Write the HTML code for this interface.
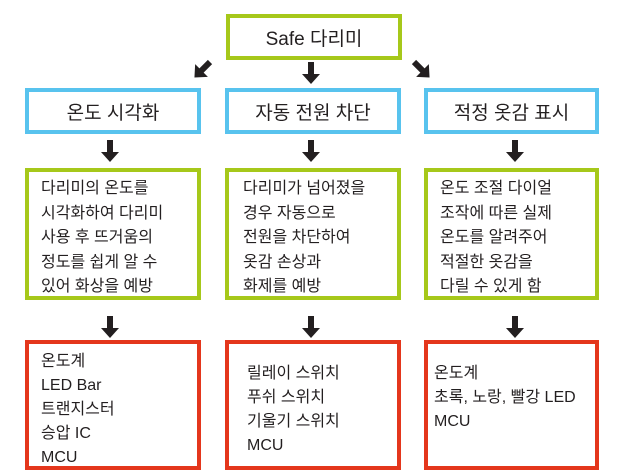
<!DOCTYPE html>
<html><head><meta charset="utf-8"><style>
body{margin:0;width:620px;height:475px;background:#fff;position:relative;font-family:"Liberation Sans","Noto Sans CJK KR",sans-serif;color:#231f20;overflow:hidden}
.b{position:absolute;box-sizing:border-box;border:4px solid}
.g{border-color:#a6c81a}.bl{border-color:#58c3ee}.r{border-color:#e4361c}
.t{display:flex;align-items:center;justify-content:center;font-size:19px}
.tx{font-size:16px;line-height:24.5px;padding-left:12px}
svg{position:absolute;left:0;top:0}
</style></head><body>
<div class="b g t" style="left:226px;top:14px;width:176px;height:46px">Safe 다리미</div>
<div class="b bl t" style="left:25px;top:88px;width:176px;height:46px">온도 시각화</div>
<div class="b bl t" style="left:225px;top:88px;width:176px;height:46px">자동 전원 차단</div>
<div class="b bl t" style="left:424px;top:88px;width:175px;height:46px">적정 옷감 표시</div>
<div class="b g tx" style="left:25px;top:168px;width:176px;height:132px;padding-top:5px">다리미의 온도를<br>시각화하여 다리미<br>사용 후 뜨거움의<br>정도를 쉽게 알 수<br>있어 화상을 예방</div>
<div class="b g tx" style="left:225px;top:168px;width:176px;height:132px;padding-top:5px;padding-left:14px">다리미가 넘어졌을<br>경우 자동으로<br>전원을 차단하여<br>옷감 손상과<br>화제를 예방</div>
<div class="b g tx" style="left:424px;top:168px;width:175px;height:132px;padding-top:5px">온도 조절 다이얼<br>조작에 따른 실제<br>온도를 알려주어<br>적절한 옷감을<br>다릴 수 있게 함</div>
<div class="b r tx" style="left:25px;top:340px;width:176px;height:130px;padding-top:6px;line-height:24px">온도계<br>LED Bar<br>트랜지스터<br>승압 IC<br>MCU</div>
<div class="b r tx" style="left:225px;top:340px;width:176px;height:130px;padding-top:18px;padding-left:18px;line-height:24px">릴레이 스위치<br>푸쉬 스위치<br>기울기 스위치<br>MCU</div>
<div class="b r tx" style="left:424px;top:340px;width:175px;height:130px;padding-top:18px;padding-left:6px;line-height:24px">온도계<br>초록, 노랑, 빨강 LED<br>MCU</div>
<svg width="620" height="475" fill="#231f20">
<defs><path id="a" d="M-3,0h6v12h6l-9,10l-9,-10h6z"/></defs>
<use href="#a" x="311" y="62"/>
<use href="#a" x="110" y="140"/><use href="#a" x="311" y="140"/><use href="#a" x="515" y="140"/>
<use href="#a" x="110" y="316"/><use href="#a" x="311" y="316"/><use href="#a" x="515" y="316"/>
<use href="#a" transform="translate(210,62) rotate(45)"/>
<use href="#a" transform="translate(414,62) rotate(-45)"/>
</svg>
</body></html>
